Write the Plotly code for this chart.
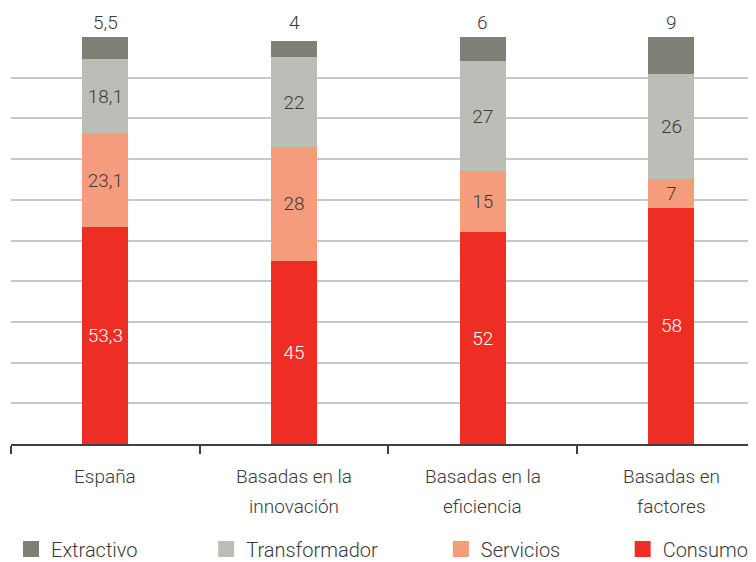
import plotly.graph_objects as go

categories = ["España", "Basadas en la<br>innovación", "Basadas en la<br>eficiencia", "Basadas en<br>factores"]
consumo = [53.3, 45, 52, 58]
servicios = [23.1, 28, 15, 7]
transformador = [18.1, 22, 27, 26]
extractivo = [5.5, 4, 6, 9]

series_names = ["Extractivo", "Transformador", "Servicios", "Consumo"]
colors = {"Extractivo": "#7f7f75", "Transformador": "#bdbdb7",
          "Servicios": "#f59c7c", "Consumo": "#ee2e24"}

FONT = "Roboto"
TXT = "#3a3a3a"

fig = go.Figure()

def fmt(v):
    return f"{v:g}".replace(".", ",")

stack = [("Consumo", consumo, "white"), ("Servicios", servicios, TXT),
         ("Transformador", transformador, TXT)]
for name, vals, tc in stack:
    fig.add_trace(go.Bar(
        x=categories, y=vals, name=name, marker=dict(color=colors[name], line=dict(width=0)),
        text=[fmt(v) for v in vals], textposition="inside", insidetextanchor="middle",
        textangle=0, textfont=dict(family=FONT, size=19, color=tc, weight=300),
        showlegend=False, hoverinfo="skip"))
fig.add_trace(go.Bar(
    x=categories, y=extractivo, name="Extractivo",
    marker=dict(color=colors["Extractivo"], line=dict(width=0)),
    showlegend=False, hoverinfo="skip"))

# labels above the bars for Extractivo
for c, v in zip(categories, extractivo):
    fig.add_annotation(x=c, y=100, text=fmt(v), showarrow=False, yanchor="bottom",
                       yshift=1, font=dict(family=FONT, size=19, color=TXT, weight=300))

# category labels (two-line with wider line spacing)
for c in categories:
    for j, line in enumerate(c.split("<br>")):
        fig.add_annotation(x=c, y=0, text=line, showarrow=False, yanchor="middle",
                           yshift=-32 - 30 * j,
                           font=dict(family=FONT, size=19, color=TXT, weight=300))

# legend entries (one legend each, for spacing)
legend_x = [0.0, 0.262, 0.577, 0.821]
for i, name in enumerate(series_names):
    key = "legend" if i == 0 else f"legend{i+1}"
    fig.add_trace(go.Scatter(
        x=[None], y=[None], mode="markers", name=name, legend=key,
        marker=dict(symbol="square", size=16, color=colors[name], line=dict(width=0)),
        showlegend=True, hoverinfo="skip"))

layout_legends = {}
for i, name in enumerate(series_names):
    key = "legend" if i == 0 else f"legend{i+1}"
    layout_legends[key] = dict(x=legend_x[i], xanchor="left", y=-0.258, yanchor="middle",
                               orientation="h", bgcolor="rgba(0,0,0,0)", borderwidth=0,
                               font=dict(family=FONT, size=20, color=TXT, weight=300))

fig.update_layout(
    width=748, height=554,
    margin=dict(l=3, r=0, t=29, b=118, autoexpand=False),
    barmode="stack", bargap=0.756,
    plot_bgcolor="white", paper_bgcolor="white",
    separators=",.",
    font=dict(family=FONT, size=18, color=TXT, weight=300),
    xaxis=dict(range=[-0.5, 3.448], tickson="boundaries", ticks="outside", ticklen=8,
               tickwidth=2, tickcolor="#404040", showline=True, linecolor="#404040",
               linewidth=2, showgrid=False, showticklabels=False, fixedrange=True),
    yaxis=dict(range=[0, 100], dtick=10, showgrid=True, gridcolor="#c8c8cc", gridwidth=2,
               showticklabels=False, zeroline=False, showline=False, fixedrange=True),
    **layout_legends,
)

fig.write_html("out.html")
